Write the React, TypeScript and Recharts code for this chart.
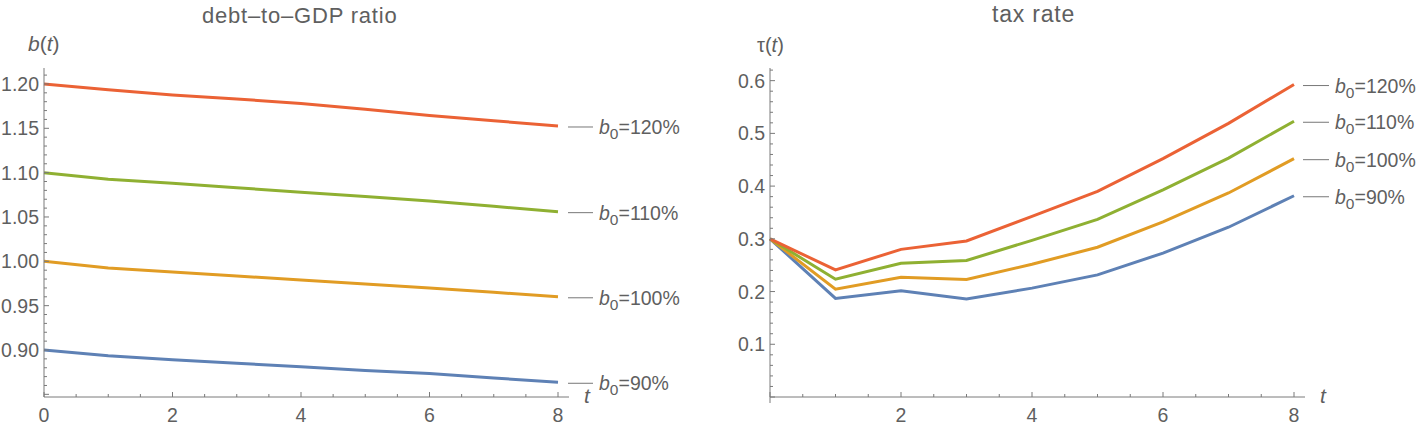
import React from "react";
import { LineChart, Line, XAxis, YAxis, LabelList } from "recharts";

const T = [0, 1, 2, 3, 4, 5, 6, 7, 8];

// debt-to-GDP ratio b(t)
const debt90 = [0.9, 0.8935, 0.889, 0.885, 0.881, 0.877, 0.8735, 0.8685, 0.8636];
const debt100 = [1.0, 0.9925, 0.988, 0.9835, 0.979, 0.9745, 0.97, 0.965, 0.96];
const debt110 = [1.1, 1.0925, 1.088, 1.083, 1.078, 1.073, 1.068, 1.062, 1.056];
const debt120 = [1.2, 1.1935, 1.1875, 1.183, 1.178, 1.1715, 1.1645, 1.1585, 1.1526];

// tax rate tau(t)
const tax90 = [0.3, 0.187, 0.2015, 0.186, 0.2065, 0.2316, 0.273, 0.322, 0.3817];
const tax100 = [0.3, 0.2046, 0.227, 0.2228, 0.2517, 0.284, 0.332, 0.387, 0.452];
const tax110 = [0.3, 0.2235, 0.2537, 0.259, 0.297, 0.337, 0.393, 0.453, 0.523];
const tax120 = [0.3, 0.241, 0.28, 0.296, 0.3427, 0.39, 0.452, 0.519, 0.5926];

const SERIES = [
  { key: "b90", name: "90%", color: "#5E81B5" },
  { key: "b100", name: "100%", color: "#E19C24" },
  { key: "b110", name: "110%", color: "#8FB032" },
  { key: "b120", name: "120%", color: "#EB6235" },
];

// tick positions (major + minor)
const xTicks = Array.from({ length: 17 }, (_, i) => i / 2);
const debtTicks = Array.from({ length: 37 }, (_, i) => (85 + i) / 100);
const taxTicks = Array.from({ length: 32 }, (_, i) => (2 * i) / 100);

const debtData = T.map((t, i) => ({
  t,
  b90: debt90[i],
  b100: debt100[i],
  b110: debt110[i],
  b120: debt120[i],
}));
const taxData = T.map((t, i) => ({
  t,
  b90: tax90[i],
  b100: tax100[i],
  b110: tax110[i],
  b120: tax120[i],
}));

const FONT = "'Liberation Sans', Arial, sans-serif";
const TEXT = "#5f5f5f";
const AXIS = "#7a7a7a";
const TICK_FONT = 19.5;

function XTick(props: any) {
  const { x, y, payload, showZero, zeroDown } = props;
  const v = payload.value;
  const major = Math.abs(v - Math.round(v)) < 1e-9 && Math.round(v) % 2 === 0;
  const len = major ? 5 : 3;
  const label = major && (v !== 0 || showZero);
  return (
    <g>
      <line x1={x} x2={x} y1={y + (v === 0 && zeroDown ? 6 : 0)} y2={y - len} stroke={AXIS} strokeWidth={1} />
      {label && (
        <text x={x} y={y + 24.5} textAnchor="middle" fontSize={TICK_FONT} fill={TEXT} fontFamily={FONT}>
          {v}
        </text>
      )}
    </g>
  );
}

function YTick(props: any) {
  const { x, y, payload, step, digits, minLabel } = props;
  const v = payload.value;
  const n = Math.round(v * 100);
  const major = n % step === 0;
  const len = major ? 5 : 3;
  const label = major && n >= minLabel;
  return (
    <g>
      <line x1={x} x2={x + len} y1={y} y2={y} stroke={AXIS} strokeWidth={1} />
      {label && (
        <text x={x - 5} y={y + 7} textAnchor="end" fontSize={TICK_FONT} fill={TEXT} fontFamily={FONT}>
          {v.toFixed(digits)}
        </text>
      )}
    </g>
  );
}

function endLabel(name: string, last: number, dashFrom: number, dashTo: number, textAt: number) {
  return (p: any) => {
    if (p.index !== last) return <g />;
    const x = Number(p.x);
    const y = Number(p.y);
    return (
      <g>
        <line x1={x + dashFrom} x2={x + dashTo} y1={y + 1} y2={y + 1} stroke="#777" strokeWidth={1} />
        <text x={x + textAt} y={y + 8} fontSize={19.5} fill={TEXT} fontFamily={FONT}>
          <tspan fontStyle="italic">b</tspan>
          <tspan dy={5} fontSize={15.5}>0</tspan>
          <tspan dy={-5}>={name}</tspan>
        </text>
      </g>
    );
  };
}

function Panel(props: {
  data: any[];
  left: number;
  width: number;
  marginLeft: number;
  marginRight: number;
  yDomain: [number, number];
  yTicks: number[];
  step: number;
  digits: number;
  minLabel: number;
  zeroX: boolean;
  dash: [number, number, number];
}) {
  const { data, left, width, marginLeft, marginRight, yDomain, yTicks, step, digits, minLabel, zeroX, dash } = props;
  return (
    <div style={{ position: "absolute", left, top: 0 }}>
      <LineChart
        width={width}
        height={428}
        data={data}
        margin={{ top: 68, right: marginRight, bottom: 1, left: marginLeft }}
      >
        <XAxis
          dataKey="t"
          type="number"
          domain={[0, 8]}
          ticks={xTicks}
          interval={0}
          padding={{ left: 0, right: 11 }}
          height={30}
          tickSize={0}
          tickMargin={0}
          axisLine={{ stroke: AXIS }}
          tickLine={false}
          tick={(p: any) => <XTick {...p} showZero={zeroX} zeroDown={!zeroX} />}
        />
        <YAxis
          type="number"
          domain={yDomain}
          ticks={yTicks}
          interval={0}
          width={44}
          tickSize={0}
          tickMargin={0}
          allowDataOverflow
          axisLine={{ stroke: AXIS }}
          tickLine={false}
          tick={(p: any) => <YTick {...p} step={step} digits={digits} minLabel={minLabel} />}
        />
        {SERIES.map((s) => (
          <Line
            key={s.key}
            dataKey={s.key}
            type="linear"
            stroke={s.color}
            strokeWidth={3}
            dot={false}
            isAnimationActive={false}
          >
            <LabelList dataKey={s.key} content={endLabel(s.name, data.length - 1, dash[0], dash[1], dash[2])} />
          </Line>
        ))}
      </LineChart>
    </div>
  );
}

const txt: React.CSSProperties = {
  position: "absolute",
  fontFamily: FONT,
  color: TEXT,
  whiteSpace: "nowrap",
  lineHeight: 1,
};

export default function App() {
  return (
    <div style={{ position: "absolute", left: 0, top: 0, width: 1419, height: 428, background: "#fff" }}>
      <Panel
        data={debtData}
        left={0}
        width={700}
        marginLeft={0}
        marginRight={131}
        yDomain={[0.847, 1.218]}
        yTicks={debtTicks}
        step={5}
        digits={2}
        minLabel={90}
        zeroX={true}
        dash={[10, 35, 41]}
      />
      <Panel
        data={taxData}
        left={700}
        width={719}
        marginLeft={26}
        marginRight={114}
        yDomain={[0, 0.624]}
        yTicks={taxTicks}
        step={10}
        digits={1}
        minLabel={10}
        zeroX={false}
        dash={[9, 35, 41]}
      />
      <div style={{ ...txt, left: 202, top: 5, fontSize: 22, letterSpacing: 0.8 }}>debt–to–GDP ratio</div>
      <div style={{ ...txt, left: 992, top: 3, fontSize: 23, letterSpacing: 0.8 }}>tax rate</div>
      <div style={{ ...txt, left: 28, top: 33, fontSize: 21 }}>
        <i>b</i>(<i>t</i>)
      </div>
      <div style={{ ...txt, left: 757, top: 35, fontSize: 20 }}>
        τ(<i>t</i>)
      </div>
      <div style={{ ...txt, left: 584, top: 385, fontSize: 21 }}>
        <i>t</i>
      </div>
      <div style={{ ...txt, left: 1320, top: 385, fontSize: 21 }}>
        <i>t</i>
      </div>
    </div>
  );
}
